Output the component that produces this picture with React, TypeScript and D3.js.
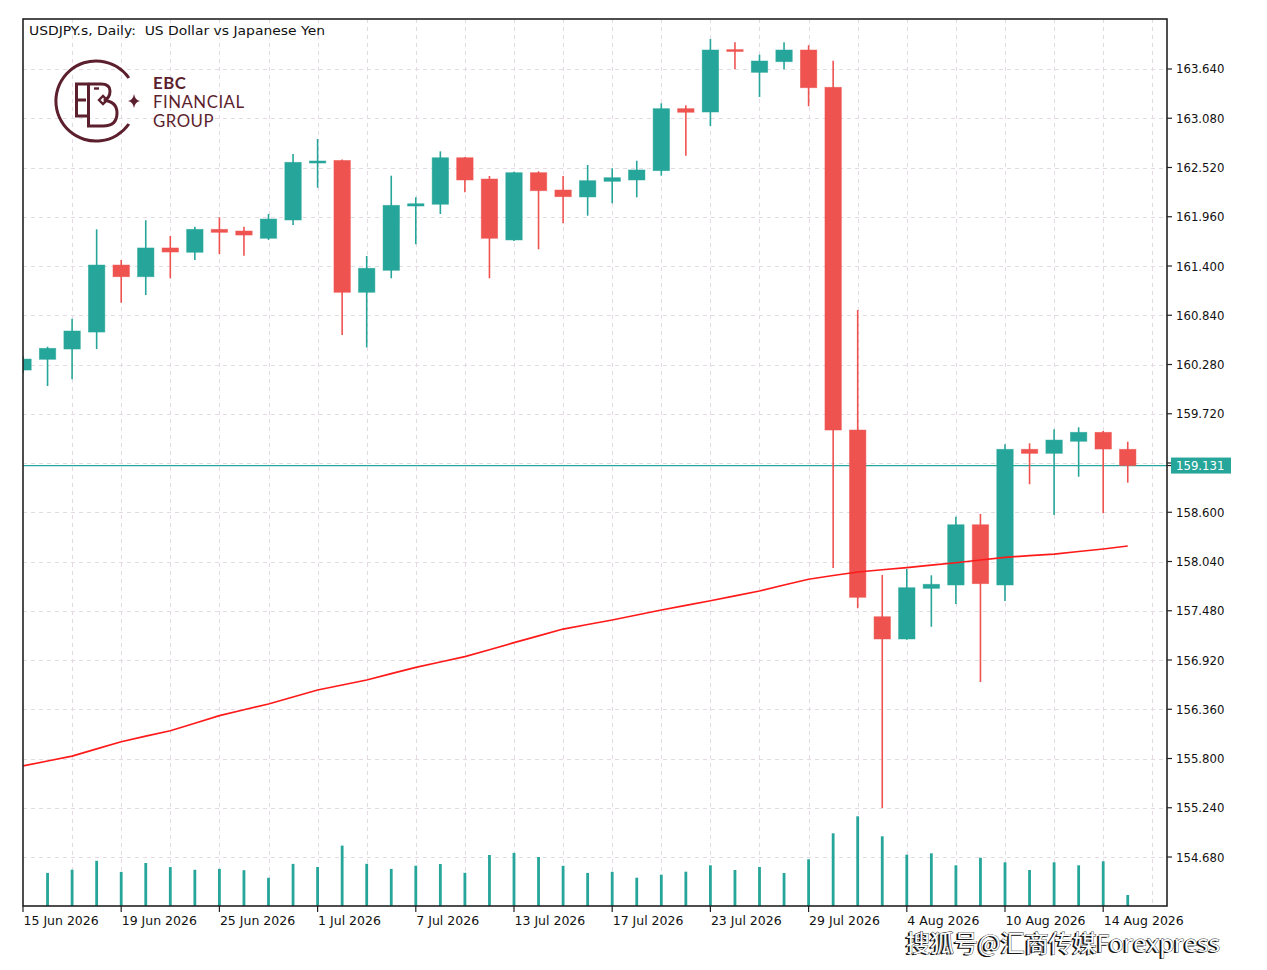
import React from 'react';
import * as d3 from 'd3';

// ---- data (daily candles, 15 Jun 2026 .. 17 Aug 2026) ----
const opens = [160.217,160.339,160.456,160.649,161.411,161.278,161.605,161.556,161.817,161.798,161.715,161.923,162.571,162.600,161.101,161.351,162.082,162.102,162.631,162.389,161.696,162.461,162.264,162.185,162.363,162.378,162.484,163.189,163.151,163.860,163.602,163.723,163.856,163.432,159.535,157.412,157.159,157.735,157.773,158.458,157.773,159.316,159.270,159.407,159.509,159.316];
const highs = [160.377,160.482,160.801,161.817,161.468,161.920,161.741,161.847,161.954,161.847,161.991,162.673,162.844,162.610,161.514,162.427,162.181,162.704,162.640,162.423,162.472,162.477,162.423,162.548,162.511,162.597,163.250,163.227,163.981,163.944,163.803,163.944,163.910,163.734,160.900,157.887,157.955,157.883,158.549,158.580,159.373,159.384,159.543,159.566,159.524,159.402];
const lows = [160.183,160.035,160.112,160.456,160.983,161.070,161.260,161.468,161.536,161.517,161.696,161.866,162.290,160.615,160.475,161.260,161.647,161.991,162.238,161.260,161.684,161.590,161.886,161.972,162.113,162.181,162.427,162.654,162.992,163.637,163.322,163.637,163.216,157.966,157.508,155.237,157.150,157.298,157.557,156.670,157.591,158.918,158.569,159.004,158.588,158.936];
const closes = [160.342,160.464,160.661,161.411,161.278,161.605,161.559,161.817,161.783,161.752,161.934,162.579,162.594,161.101,161.374,162.090,162.108,162.631,162.378,161.715,162.461,162.256,162.188,162.370,162.404,162.492,163.189,163.148,163.856,163.841,163.731,163.856,163.427,159.535,157.633,157.159,157.742,157.781,158.458,157.788,159.316,159.270,159.421,159.509,159.319,159.131];
const volumes = [30200,33100,36300,45200,34100,43000,38900,36200,37100,35800,28200,42100,39000,60400,42200,37100,40300,42000,33200,51000,53100,49000,40200,33100,34200,28300,31300,34300,40700,36000,39000,33000,46700,72700,89700,69700,51300,52700,40700,48300,43700,36000,43700,40700,44700,11000];
const maValues = [155.715,155.772,155.828,155.910,155.991,156.054,156.116,156.201,156.287,156.354,156.420,156.499,156.579,156.636,156.693,156.765,156.837,156.897,156.958,157.037,157.117,157.195,157.272,157.324,157.375,157.432,157.489,157.542,157.594,157.650,157.705,157.773,157.838,157.881,157.921,157.946,157.970,157.998,158.026,158.057,158.088,158.107,158.125,158.154,158.182,158.216];
const priceTicks = [163.64,163.08,162.52,161.96,161.4,160.84,160.28,159.72,159.16,158.6,158.04,157.48,156.92,156.36,155.8,155.24,154.68];
const dateLabels = ['15 Jun 2026','19 Jun 2026','25 Jun 2026','1 Jul 2026','7 Jul 2026','13 Jul 2026','17 Jul 2026','23 Jul 2026','29 Jul 2026','4 Aug 2026','10 Aug 2026','14 Aug 2026'];
const currentPrice = 159.131;
const titleText = 'USDJPY.s, Daily:  US Dollar vs Japanese Yen';
const logoLines = ['EBC', 'FINANCIAL', 'GROUP'];
const watermarkCJK = '搜狐号@汇商传媒';
const watermarkLatin = 'Forexpress';

// ---- layout ----
const W = 1267, H = 970;
const L = 23, R = 1167, T = 19, B = 906;
const UP = '#26a69a', DOWN = '#ef5350', MAROON = '#5c1f2e';
const GRID = '#e4dae4';
const COND = '"DejaVu Sans Condensed", "DejaVu Sans", sans-serif';
const SANS = '"DejaVu Sans", sans-serif';
const CJK = '"Noto Sans CJK SC", sans-serif';
const LATIN = '"Open Sans", "DejaVu Sans", sans-serif';

function Watermark({ dx, dy, fill, stroke }: { dx: number; dy: number; fill: string; stroke?: string }) {
  return (
    <text x={906 + dx} y={952 + dy} fontSize={24} fill={fill} stroke={stroke} strokeWidth={stroke ? 0.8 : 0}
      style={{ paintOrder: 'stroke' }}>
      <tspan fontFamily={CJK}>{watermarkCJK}</tspan>
      <tspan fontFamily={LATIN}>{watermarkLatin}</tspan>
    </text>
  );
}

export default function App() {
  const n = opens.length;
  const x = d3.scaleLinear().domain([0, n - 1]).range([L, L + 24.55 * (n - 1)]);
  const y = d3.scaleLinear().domain([154.123, 164.2085]).range([B, T]);
  const vy = d3.scaleLinear().domain([0, 100000]).range([B, B - 100]);
  const bodyW = 16.4;

  const maLine = d3.line<number>().x((_, i) => x(i)).y(d => y(d))(maValues) || '';

  const gridX = d3.range(2, n + 1, 2);
  const dateIdx = dateLabels.map((_, k) => k * 4);

  const arc = d3.arc()({
    innerRadius: 38.6, outerRadius: 41.6,
    startAngle: (125 * Math.PI) / 180, endAngle: (415 * Math.PI) / 180,
  } as any) || '';

  return (
    <div style={{ position: 'absolute', left: 0, top: 0 }}>
      <svg width={W} height={H} style={{ display: 'block', background: '#fff' }} fontFamily={COND}>
        <defs>
          <clipPath id="plot"><rect x={L} y={T} width={R - L} height={B - T} /></clipPath>
          <clipPath id="vol"><rect x={L + 2} y={T} width={R - L - 2} height={B - T} /></clipPath>
        </defs>
        <rect x={0} y={0} width={W} height={H} fill="#fff" />

        {/* grid */}
        <g stroke={GRID} strokeWidth={1} strokeDasharray="4,4">
          {priceTicks.map(p => (
            <line key={'h' + p} x1={L} x2={R} y1={Math.round(y(p)) + 0.5} y2={Math.round(y(p)) + 0.5} />
          ))}
          {gridX.map(i => (
            <line key={'v' + i} x1={Math.round(x(i)) + 0.5} x2={Math.round(x(i)) + 0.5} y1={T} y2={B} />
          ))}
        </g>

        {/* volumes */}
        <g clipPath="url(#vol)">
          {volumes.map((v, i) => (
            <rect key={'vol' + i} x={x(i) - 1.4} y={vy(v)} width={2.8} height={B - vy(v)} fill={UP} />
          ))}
        </g>

        <g clipPath="url(#plot)">
          {/* current price line */}
          <line x1={L} x2={R} y1={y(currentPrice)} y2={y(currentPrice)} stroke={UP} strokeWidth={1.2} />

          {/* candles */}
          {opens.map((o, i) => {
            const c = closes[i];
            const col = c >= o ? UP : DOWN;
            const top = y(Math.max(o, c));
            const bot = y(Math.min(o, c));
            const h = Math.max(bot - top, 1.8);
            return (
              <g key={'c' + i}>
                <line x1={x(i)} x2={x(i)} y1={y(highs[i])} y2={y(lows[i])} stroke={col} strokeWidth={1.6} />
                <rect x={x(i) - bodyW / 2} y={top} width={bodyW} height={h} fill={col} stroke={col} strokeOpacity={0.6} strokeWidth={0.8} />
              </g>
            );
          })}

          {/* moving average */}
          <path d={maLine} fill="none" stroke="#ff1a1a" strokeWidth={1.7} />
        </g>

        {/* frame */}
        <rect x={L} y={T} width={R - L} height={B - T} fill="none" stroke="#222" strokeWidth={1.6} />

        {/* right axis */}
        {priceTicks.map(p => (
          <g key={'pt' + p}>
            <line x1={R} x2={R + 5} y1={y(p)} y2={y(p)} stroke="#222" strokeWidth={1.2} />
            {Math.abs(p - currentPrice) > 0.15 && (
              <text x={R + 9} y={y(p) + 4.5} fontSize={13} fill="#111">{p.toFixed(3)}</text>
            )}
          </g>
        ))}
        <line x1={R} x2={R + 5} y1={y(currentPrice)} y2={y(currentPrice)} stroke="#222" strokeWidth={1.2} />
        <rect x={R + 4} y={y(currentPrice) - 8} width={60} height={16} fill={UP} />
        <text x={R + 9} y={y(currentPrice) + 4.5} fontSize={13} fill="#fff">{currentPrice.toFixed(3)}</text>

        {/* bottom axis */}
        {dateIdx.map((i, k) => (
          <g key={'d' + k}>
            <line x1={x(i)} x2={x(i)} y1={B} y2={B + 6} stroke="#222" strokeWidth={1.2} />
            <text x={x(i) + 0.5} y={B + 18.5} fontSize={12.5} fontFamily={SANS} fill="#111">{dateLabels[k]}</text>
          </g>
        ))}

        {/* title */}
        <text x={29} y={35} fontSize={13} fontFamily={SANS} fill="#111" xmlSpace="preserve"
          style={{ whiteSpace: 'pre' }} textLength={296} lengthAdjust="spacingAndGlyphs">{titleText}</text>

        {/* logo */}
        <g fill="none" stroke={MAROON} strokeWidth={3} strokeLinejoin="miter">
          <path d={arc} transform="translate(96,101)" fill={MAROON} stroke="none" />
          <path d="M89 84 H76.5 V116 H89 M76.5 100 H86" />
          <path d="M88.5 84 V126 H103 Q117 126 117 113 Q117 101.5 104 100.5 Q110 98 110 91 Q110 84 101 84 H88.5" />
          <path d="M99 100 L103 96 L107 100 L103 104 Z" strokeWidth={2.4} />
          <path d="M94 88.5 H99" strokeWidth={2.4} />
        </g>
        <path d="M134 94 Q135 100 140 101 Q135 102 134 108 Q133 102 128 101 Q133 100 134 94 Z" fill={MAROON} />
        {logoLines.map((t, k) => (
          <text key={t} x={153} y={88.5 + k * 19.2} fontSize={16.8} letterSpacing={0.5}
            fontFamily="Lato, 'Open Sans', sans-serif"
            fontWeight={k === 0 ? 700 : 400} fill={MAROON}>{t}</text>
        ))}

        {/* watermark */}
        <Watermark dx={-2} dy={1} fill="#111" />
        <Watermark dx={0} dy={0} fill="#fff" stroke="#222" />
      </svg>
    </div>
  );
}
